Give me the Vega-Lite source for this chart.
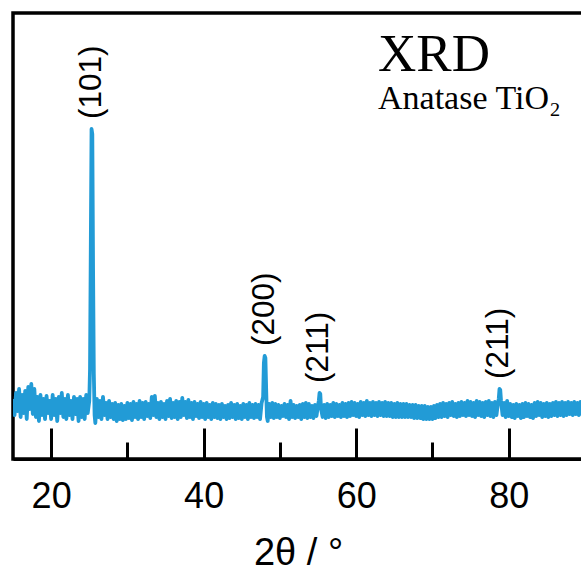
{
  "$schema": "https://vega.github.io/schema/vega-lite/v6.json",
  "width": 570,
  "height": 446,
  "autosize": {"type": "none"},
  "padding": {"left": 13, "top": 13, "right": 0, "bottom": 118},
  "background": "white",
  "config": {
    "view": {"stroke": "black", "strokeWidth": 3.5},
    "font": "Liberation Sans"
  },
  "title": {
    "text": "XRD",
    "subtitle": "Anatase TiO₂",
    "orient": "top",
    "anchor": "start",
    "frame": "group",
    "font": "Liberation Serif",
    "fontSize": 53,
    "fontWeight": "normal",
    "color": "black",
    "subtitleFont": "Liberation Serif",
    "subtitleFontSize": 34,
    "subtitleColor": "black",
    "subtitlePadding": 0,
    "offset": 0,
    "dx": 365,
    "dy": 103
  },
  "datasets": {
    "xrd": [
      {"t":15.0,"i":60},{"t":15.2,"i":44},{"t":15.4,"i":66},{"t":15.6,"i":48},{"t":15.8,"i":70},
      {"t":16.0,"i":42},{"t":16.2,"i":64},{"t":16.4,"i":46},{"t":16.6,"i":68},{"t":16.8,"i":40},
      {"t":17.0,"i":72},{"t":17.2,"i":50},{"t":17.4,"i":75},{"t":17.6,"i":45},{"t":17.8,"i":70},
      {"t":18.0,"i":42},{"t":18.2,"i":62},{"t":18.4,"i":38},{"t":18.6,"i":64},{"t":18.8,"i":44},
      {"t":19.0,"i":60},{"t":19.2,"i":40},{"t":19.4,"i":63},{"t":19.6,"i":46},{"t":19.8,"i":58},
      {"t":20.0,"i":40},{"t":20.2,"i":64},{"t":20.4,"i":44},{"t":20.6,"i":60},{"t":20.8,"i":38},
      {"t":21.0,"i":62},{"t":21.2,"i":46},{"t":21.4,"i":66},{"t":21.6,"i":42},{"t":21.8,"i":60},
      {"t":22.0,"i":40},{"t":22.2,"i":64},{"t":22.4,"i":44},{"t":22.6,"i":58},{"t":22.8,"i":40},
      {"t":23.0,"i":62},{"t":23.2,"i":45},{"t":23.4,"i":60},{"t":23.6,"i":38},{"t":23.8,"i":62},
      {"t":24.0,"i":42},{"t":24.2,"i":60},{"t":24.4,"i":40},{"t":24.6,"i":64},{"t":24.8,"i":46},
      {"t":25.0,"i":58},{"t":25.1,"i":90},{"t":25.2,"i":210},{"t":25.3,"i":330},{"t":25.4,"i":325},
      {"t":25.5,"i":190},{"t":25.6,"i":85},{"t":25.7,"i":44},{"t":25.8,"i":36},
      {"t":26.0,"i":60},{"t":26.2,"i":42},{"t":26.4,"i":58},{"t":26.6,"i":40},{"t":26.8,"i":62},
      {"t":27.0,"i":44},{"t":27.2,"i":56},{"t":27.4,"i":40},{"t":27.6,"i":58},{"t":27.8,"i":42},
      {"t":28.0,"i":55},{"t":28.2,"i":40},{"t":28.4,"i":56},{"t":28.6,"i":38},{"t":28.8,"i":54},
      {"t":29.0,"i":40},{"t":29.2,"i":55},{"t":29.4,"i":39},{"t":29.6,"i":53},{"t":29.8,"i":40},
      {"t":30.0,"i":56},{"t":30.2,"i":41},{"t":30.4,"i":55},{"t":30.6,"i":39},{"t":30.8,"i":57},
      {"t":31.0,"i":42},{"t":31.2,"i":55},{"t":31.4,"i":40},{"t":31.6,"i":58},{"t":31.8,"i":42},
      {"t":32.0,"i":56},{"t":32.2,"i":40},{"t":32.4,"i":57},{"t":32.6,"i":43},{"t":32.8,"i":55},
      {"t":33.0,"i":41},{"t":33.2,"i":62},{"t":33.4,"i":44},{"t":33.6,"i":63},{"t":33.8,"i":42},
      {"t":34.0,"i":56},{"t":34.2,"i":40},{"t":34.4,"i":57},{"t":34.6,"i":42},{"t":34.8,"i":55},
      {"t":35.0,"i":40},{"t":35.2,"i":58},{"t":35.4,"i":43},{"t":35.6,"i":60},{"t":35.8,"i":41},
      {"t":36.0,"i":56},{"t":36.2,"i":42},{"t":36.4,"i":58},{"t":36.6,"i":40},{"t":36.8,"i":57},
      {"t":37.0,"i":42},{"t":37.2,"i":61},{"t":37.4,"i":44},{"t":37.6,"i":57},{"t":37.8,"i":41},
      {"t":38.0,"i":59},{"t":38.2,"i":42},{"t":38.4,"i":56},{"t":38.6,"i":40},{"t":38.8,"i":57},
      {"t":39.0,"i":43},{"t":39.2,"i":55},{"t":39.4,"i":41},{"t":39.6,"i":57},{"t":39.8,"i":42},
      {"t":40.0,"i":55},{"t":40.2,"i":40},{"t":40.4,"i":56},{"t":40.6,"i":42},{"t":40.8,"i":54},
      {"t":41.0,"i":40},{"t":41.2,"i":56},{"t":41.4,"i":42},{"t":41.6,"i":55},{"t":41.8,"i":41},
      {"t":42.0,"i":54},{"t":42.2,"i":40},{"t":42.4,"i":55},{"t":42.6,"i":42},{"t":42.8,"i":53},
      {"t":43.0,"i":40},{"t":43.2,"i":54},{"t":43.4,"i":41},{"t":43.6,"i":56},{"t":43.8,"i":42},
      {"t":44.0,"i":54},{"t":44.2,"i":40},{"t":44.4,"i":55},{"t":44.6,"i":41},{"t":44.8,"i":53},
      {"t":45.0,"i":40},{"t":45.2,"i":55},{"t":45.4,"i":42},{"t":45.6,"i":54},{"t":45.8,"i":40},
      {"t":46.0,"i":56},{"t":46.2,"i":42},{"t":46.4,"i":54},{"t":46.6,"i":41},{"t":46.8,"i":55},
      {"t":47.0,"i":42},{"t":47.2,"i":54},{"t":47.4,"i":40},{"t":47.6,"i":56},{"t":47.8,"i":62},
      {"t":47.9,"i":96},{"t":48.0,"i":103},{"t":48.1,"i":101},{"t":48.2,"i":70},{"t":48.3,"i":42},
      {"t":48.4,"i":38},{"t":48.6,"i":55},{"t":48.8,"i":42},
      {"t":49.0,"i":56},{"t":49.2,"i":41},{"t":49.4,"i":55},{"t":49.6,"i":42},{"t":49.8,"i":54},
      {"t":50.0,"i":41},{"t":50.2,"i":53},{"t":50.4,"i":43},{"t":50.6,"i":55},{"t":50.8,"i":42},
      {"t":51.0,"i":54},{"t":51.2,"i":40},{"t":51.4,"i":58},{"t":51.6,"i":42},{"t":51.8,"i":54},
      {"t":52.0,"i":41},{"t":52.2,"i":53},{"t":52.4,"i":42},{"t":52.6,"i":54},{"t":52.8,"i":40},
      {"t":53.0,"i":55},{"t":53.2,"i":42},{"t":53.4,"i":56},{"t":53.6,"i":41},{"t":53.8,"i":55},
      {"t":54.0,"i":42},{"t":54.2,"i":53},{"t":54.4,"i":41},{"t":54.6,"i":54},{"t":54.8,"i":43},
      {"t":55.0,"i":54},{"t":55.1,"i":58},{"t":55.2,"i":66},{"t":55.3,"i":65},{"t":55.4,"i":50},
      {"t":55.6,"i":42},{"t":55.8,"i":54},
      {"t":56.0,"i":41},{"t":56.2,"i":55},{"t":56.4,"i":42},{"t":56.6,"i":54},{"t":56.8,"i":43},
      {"t":57.0,"i":56},{"t":57.2,"i":42},{"t":57.4,"i":55},{"t":57.6,"i":43},{"t":57.8,"i":54},
      {"t":58.0,"i":42},{"t":58.2,"i":56},{"t":58.4,"i":43},{"t":58.6,"i":55},{"t":58.8,"i":42},
      {"t":59.0,"i":56},{"t":59.2,"i":43},{"t":59.4,"i":57},{"t":59.6,"i":44},{"t":59.8,"i":56},
      {"t":60.0,"i":43},{"t":60.2,"i":55},{"t":60.4,"i":42},{"t":60.6,"i":57},{"t":60.8,"i":44},
      {"t":61.0,"i":56},{"t":61.2,"i":43},{"t":61.4,"i":58},{"t":61.6,"i":44},{"t":61.8,"i":56},
      {"t":62.0,"i":43},{"t":62.2,"i":57},{"t":62.4,"i":44},{"t":62.6,"i":56},{"t":62.8,"i":43},
      {"t":63.0,"i":57},{"t":63.2,"i":44},{"t":63.4,"i":56},{"t":63.6,"i":43},{"t":63.8,"i":57},
      {"t":64.0,"i":43},{"t":64.2,"i":56},{"t":64.4,"i":43},{"t":64.6,"i":56},{"t":64.8,"i":42},
      {"t":65.0,"i":55},{"t":65.2,"i":42},{"t":65.4,"i":56},{"t":65.6,"i":42},{"t":65.8,"i":55},
      {"t":66.0,"i":42},{"t":66.2,"i":55},{"t":66.4,"i":42},{"t":66.6,"i":55},{"t":66.8,"i":42},
      {"t":67.0,"i":54},{"t":67.2,"i":42},{"t":67.4,"i":54},{"t":67.6,"i":41},{"t":67.8,"i":54},
      {"t":68.0,"i":41},{"t":68.2,"i":53},{"t":68.4,"i":41},{"t":68.6,"i":53},{"t":68.8,"i":40},
      {"t":69.0,"i":53},{"t":69.2,"i":40},{"t":69.4,"i":52},{"t":69.6,"i":40},{"t":69.8,"i":52},
      {"t":70.0,"i":40},{"t":70.2,"i":53},{"t":70.4,"i":41},{"t":70.6,"i":54},{"t":70.8,"i":42},
      {"t":71.0,"i":55},{"t":71.2,"i":42},{"t":71.4,"i":56},{"t":71.6,"i":43},{"t":71.8,"i":55},
      {"t":72.0,"i":42},{"t":72.2,"i":56},{"t":72.4,"i":44},{"t":72.6,"i":57},{"t":72.8,"i":43},
      {"t":73.0,"i":55},{"t":73.2,"i":42},{"t":73.4,"i":56},{"t":73.6,"i":43},{"t":73.8,"i":57},
      {"t":74.0,"i":44},{"t":74.2,"i":56},{"t":74.4,"i":43},{"t":74.6,"i":58},{"t":74.8,"i":44},
      {"t":75.0,"i":57},{"t":75.2,"i":43},{"t":75.4,"i":56},{"t":75.6,"i":42},{"t":75.8,"i":58},
      {"t":76.0,"i":44},{"t":76.2,"i":57},{"t":76.4,"i":43},{"t":76.6,"i":56},{"t":76.8,"i":42},
      {"t":77.0,"i":57},{"t":77.2,"i":44},{"t":77.4,"i":58},{"t":77.6,"i":43},{"t":77.8,"i":56},
      {"t":78.0,"i":42},{"t":78.2,"i":57},{"t":78.4,"i":44},{"t":78.6,"i":56},{"t":78.7,"i":60},
      {"t":78.8,"i":70},{"t":78.9,"i":69},{"t":79.0,"i":58},{"t":79.2,"i":44},{"t":79.4,"i":56},
      {"t":79.6,"i":42},{"t":79.8,"i":58},
      {"t":80.0,"i":43},{"t":80.2,"i":55},{"t":80.4,"i":42},{"t":80.6,"i":54},{"t":80.8,"i":41},
      {"t":81.0,"i":55},{"t":81.2,"i":43},{"t":81.4,"i":54},{"t":81.6,"i":41},{"t":81.8,"i":55},
      {"t":82.0,"i":42},{"t":82.2,"i":56},{"t":82.4,"i":43},{"t":82.6,"i":55},{"t":82.8,"i":42},
      {"t":83.0,"i":54},{"t":83.2,"i":41},{"t":83.4,"i":56},{"t":83.6,"i":43},{"t":83.8,"i":57},
      {"t":84.0,"i":44},{"t":84.2,"i":56},{"t":84.4,"i":42},{"t":84.6,"i":55},{"t":84.8,"i":43},
      {"t":85.0,"i":56},{"t":85.2,"i":42},{"t":85.4,"i":55},{"t":85.6,"i":43},{"t":85.8,"i":56},
      {"t":86.0,"i":44},{"t":86.2,"i":57},{"t":86.4,"i":43},{"t":86.6,"i":56},{"t":86.8,"i":44},
      {"t":87.0,"i":57},{"t":87.2,"i":43},{"t":87.4,"i":56},{"t":87.6,"i":44},{"t":87.8,"i":57},
      {"t":88.0,"i":45},{"t":88.2,"i":56},{"t":88.4,"i":44},{"t":88.6,"i":57},{"t":88.8,"i":45},
      {"t":89.0,"i":56},{"t":89.2,"i":44},{"t":89.4,"i":57},{"t":89.6,"i":45},{"t":89.8,"i":56}
    ],
    "peaks": [
      {"t":25.35,"i":330,"label":"(101)"},
      {"t":48.05,"i":103,"label":"(200)"},
      {"t":55.1,"i":66,"label":"(211)"},
      {"t":78.7,"i":70,"label":"(211)"}
    ]
  },
  "layer": [
    {
      "data": {"name": "xrd"},
      "mark": {"type": "line", "color": "#229bd6", "strokeWidth": 3.8, "strokeJoin": "round", "clip": true},
      "encoding": {
        "x": {
          "field": "t", "type": "quantitative",
          "scale": {"domain": [15, 89.75], "nice": false, "zero": false},
          "axis": {
            "orient": "bottom",
            "values": [20, 40, 60, 80],
            "title": "2θ / °",
            "titleFont": "Liberation Sans",
            "titleFontSize": 38,
            "titleFontWeight": "normal",
            "titleColor": "black",
            "titlePadding": 20,
            "labelFont": "Liberation Sans",
            "labelFontSize": 36,
            "labelColor": "black",
            "labelPadding": 51,
            "labelFlush": false,
            "labelOverlap": false,
            "tickSize": -31,
            "tickWidth": 3,
            "tickColor": "black",
            "domain": true,
            "domainColor": "black",
            "domainWidth": 3,
            "grid": false
          }
        },
        "y": {
          "field": "i", "type": "quantitative",
          "scale": {"domain": [0, 446], "nice": false},
          "axis": null
        }
      }
    },
    {
      "data": {"name": "peaks"},
      "mark": {"type": "text", "angle": 270, "align": "left", "baseline": "middle", "dx": 10, "font": "Liberation Sans", "fontSize": 31.5, "color": "black"},
      "encoding": {
        "x": {
          "field": "t", "type": "quantitative",
          "axis": {
            "orient": "bottom",
            "values": [30, 50, 70],
            "title": null,
            "labels": false,
            "domain": false,
            "grid": false,
            "tickSize": -17,
            "tickWidth": 3,
            "tickColor": "black"
          }
        },
        "y": {"field": "i", "type": "quantitative"},
        "text": {"field": "label"}
      }
    }
  ],
  "resolve": {"axis": {"x": "independent"}}
}
